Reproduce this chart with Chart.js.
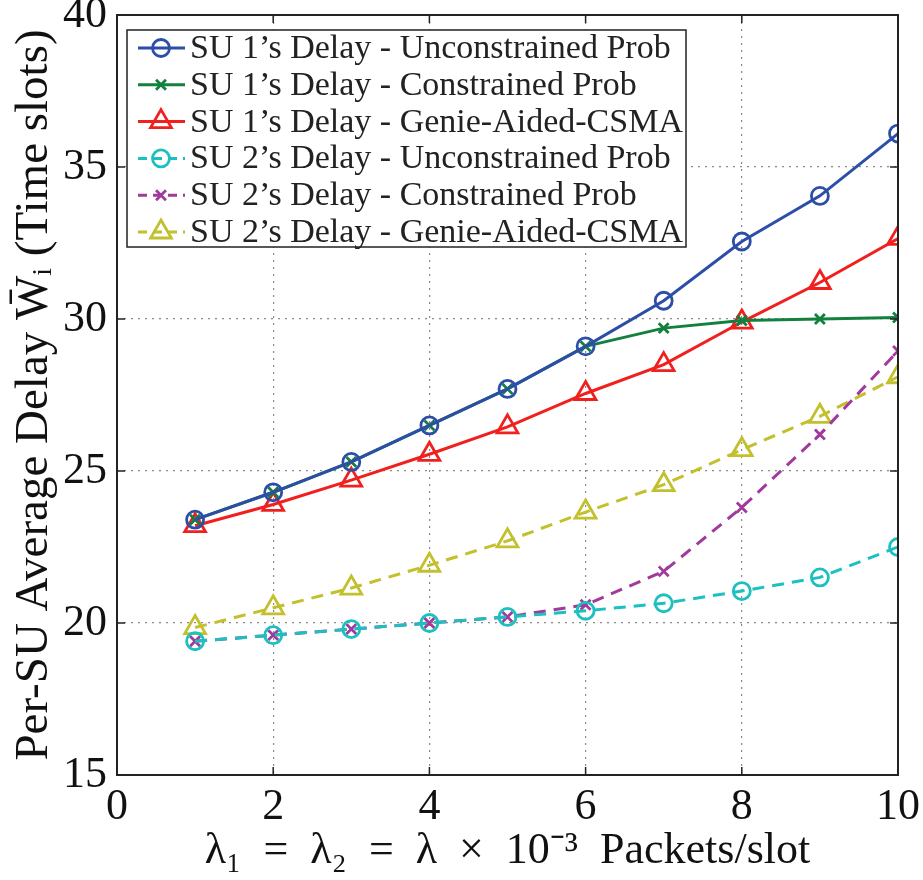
<!DOCTYPE html>
<html>
<head>
<meta charset="utf-8">
<script src="https://cdn.jsdelivr.net/npm/chart.js@4.4.0/dist/chart.umd.min.js"></script>
<style>
  html, body { margin: 0; padding: 0; background: #fff; }
  #wrap { width: 923px; height: 880px; position: relative; }
</style>
</head>
<body>
<div id="wrap"><canvas id="delayChart"></canvas></div>
<script>
const lambdas = [1, 2, 3, 4, 5, 6, 7, 8, 9, 10];
const xTicks = [0, 2, 4, 6, 8, 10];
const yTicks = [15, 20, 25, 30, 35, 40];

const su1Unconstrained = [23.4, 24.3, 25.3, 26.5, 27.7, 29.1, 30.6, 32.55, 34.05, 36.1];
const su1Constrained   = [23.4, 24.3, 25.3, 26.5, 27.7, 29.1, 29.7, 29.95, 30.0, 30.05];
const su1Genie         = [23.2, 23.9, 24.7, 25.55, 26.45, 27.55, 28.5, 29.9, 31.2, 32.65];
const su2Unconstrained = [19.4, 19.6, 19.8, 20.0, 20.2, 20.4, 20.65, 21.05, 21.5, 22.5];
const su2Constrained   = [19.4, 19.6, 19.8, 20.0, 20.2, 20.6, 21.7, 23.8, 26.2, 28.95];
const su2Genie         = [19.85, 20.5, 21.15, 21.9, 22.7, 23.65, 24.55, 25.7, 26.8, 28.1];

const seriesLabels = [
    "SU 1\u2019s Delay - Unconstrained Prob",
    "SU 1\u2019s Delay - Constrained Prob",
    "SU 1\u2019s Delay - Genie-Aided-CSMA",
    "SU 2\u2019s Delay - Unconstrained Prob",
    "SU 2\u2019s Delay - Constrained Prob",
    "SU 2\u2019s Delay - Genie-Aided-CSMA"
];

const SERIF = "'Liberation Serif', 'Times New Roman', serif";

function makeSet(label, values, color, style, radius, dashed) {
    return {
        label: label,
        data: values.map((v, i) => ({ x: lambdas[i], y: v })),
        borderColor: color,
        backgroundColor: 'rgba(0,0,0,0)',
        borderWidth: 3,
        borderDash: dashed ? [12, 8] : [],
        pointStyle: style,
        pointRadius: radius,
        pointBorderWidth: 2.8,
        pointBorderColor: color,
        pointBackgroundColor: 'rgba(0,0,0,0)',
        tension: 0
    };
}

const datasets = [
    makeSet(seriesLabels[0], su1Unconstrained, '#2c4ea6', 'circle', 8.5, false),
    makeSet(seriesLabels[1], su1Constrained, '#12803e', 'crossRot', 7, false),
    makeSet(seriesLabels[2], su1Genie, '#f0201e', 'triangle', 12, false),
    makeSet(seriesLabels[3], su2Unconstrained, '#1cc0c0', 'circle', 8.5, true),
    makeSet(seriesLabels[4], su2Constrained, '#a03a9c', 'crossRot', 7, true),
    makeSet(seriesLabels[5], su2Genie, '#c2c02c', 'triangle', 12, true)
];

// box around the plot, inward tick marks and the legend in the upper left
const framePlugin = {
    id: 'frame',
    afterDatasetsDraw(chart) {
        const ctx = chart.ctx;
        const a = chart.chartArea;
        const xs = chart.scales.x, ys = chart.scales.y;
        ctx.save();
        ctx.strokeStyle = '#222';
        ctx.lineWidth = 1.5;
        ctx.beginPath();
        xTicks.forEach(t => {
            const px = xs.getPixelForValue(t);
            ctx.moveTo(px, a.bottom); ctx.lineTo(px, a.bottom - 8);
            ctx.moveTo(px, a.top); ctx.lineTo(px, a.top + 8);
        });
        yTicks.forEach(t => {
            const py = ys.getPixelForValue(t);
            ctx.moveTo(a.left, py); ctx.lineTo(a.left + 8, py);
            ctx.moveTo(a.right, py); ctx.lineTo(a.right - 8, py);
        });
        ctx.stroke();
        ctx.lineWidth = 2;
        ctx.strokeRect(a.left, a.top, a.right - a.left, a.bottom - a.top);

        // legend
        const lx = a.left + 10, ly = a.top + 15, lw = 559, rowH = 36.8;
        const lh = 217;
        ctx.fillStyle = '#fff';
        ctx.fillRect(lx, ly, lw, lh);
        ctx.strokeStyle = '#222';
        ctx.lineWidth = 1.5;
        ctx.strokeRect(lx, ly, lw, lh);
        ctx.font = '34px ' + SERIF;
        ctx.textBaseline = 'middle';
        ctx.textAlign = 'left';
        chart.data.datasets.forEach((ds, i) => {
            const cy = ly + 18 + i * rowH;
            ctx.strokeStyle = ds.borderColor;
            ctx.lineWidth = 3;
            ctx.setLineDash(ds.borderDash.length ? [9, 6] : []);
            ctx.beginPath();
            ctx.moveTo(lx + 11, cy);
            ctx.lineTo(lx + 58, cy);
            ctx.stroke();
            ctx.setLineDash([]);
            ctx.lineWidth = 2.8;
            ctx.fillStyle = 'rgba(0,0,0,0)';
            Chart.helpers.drawPoint(ctx, {
                pointStyle: ds.pointStyle,
                radius: ds.pointRadius,
                rotation: 0,
                borderWidth: 2.8
            }, lx + 34, cy);
            ctx.fillStyle = '#222';
            ctx.fillText(ds.label, lx + 63, cy + 1);
        });
        ctx.restore();
    }
};

new Chart(document.getElementById('delayChart'), {
    type: 'line',
    data: { datasets: datasets },
    options: {
        responsive: true,
        maintainAspectRatio: false,
        animation: false,
        events: [],
        layout: { padding: { top: 15, right: 25, left: 0, bottom: 0 } },
        plugins: {
            legend: { display: false },
            tooltip: { enabled: false }
        },
        scales: {
            x: {
                type: 'linear',
                min: 0,
                max: 10,
                afterBuildTicks: scale => { scale.ticks = xTicks.map(v => ({ value: v })); },
                afterFit: scale => {
                    scale.height = 105;
                    scale.paddingLeft = 0;
                    scale.paddingRight = 0;
                },
                grid: {
                    color: '#8a8a8a',
                    lineWidth: 1.2,
                    drawTicks: false
                },
                border: { display: false, dash: [2, 5] },
                ticks: {
                    color: '#111',
                    padding: 6,
                    maxRotation: 0,
                    font: { family: SERIF, size: 44 }
                },
                title: {
                    display: true,
                    text: '\u03bb\u2081\u2002=\u2002\u03bb\u2082\u2002=\u2002\u03bb\u2002\u00d7\u200210\u207b\u00b3\u2002Packets/slot',
                    color: '#111',
                    padding: { top: 0, bottom: 2 },
                    font: { family: SERIF, size: 44 }
                }
            },
            y: {
                type: 'linear',
                min: 15,
                max: 40,
                afterBuildTicks: scale => { scale.ticks = yTicks.map(v => ({ value: v })); },
                afterFit: scale => {
                    scale.width = 117;
                    scale.paddingTop = 0;
                    scale.paddingBottom = 0;
                },
                grid: {
                    color: '#8a8a8a',
                    lineWidth: 1.2,
                    drawTicks: false
                },
                border: { display: false, dash: [2, 5] },
                ticks: {
                    color: '#111',
                    padding: 10,
                    font: { family: SERIF, size: 44 }
                },
                title: {
                    display: true,
                    text: 'Per-SU Average Delay W\u0304\u1d62 (Time slots)',
                    color: '#111',
                    padding: { top: 6, bottom: 0 },
                    font: { family: SERIF, size: 47 }
                }
            }
        }
    },
    plugins: [framePlugin]
});
</script>
</body>
</html>
